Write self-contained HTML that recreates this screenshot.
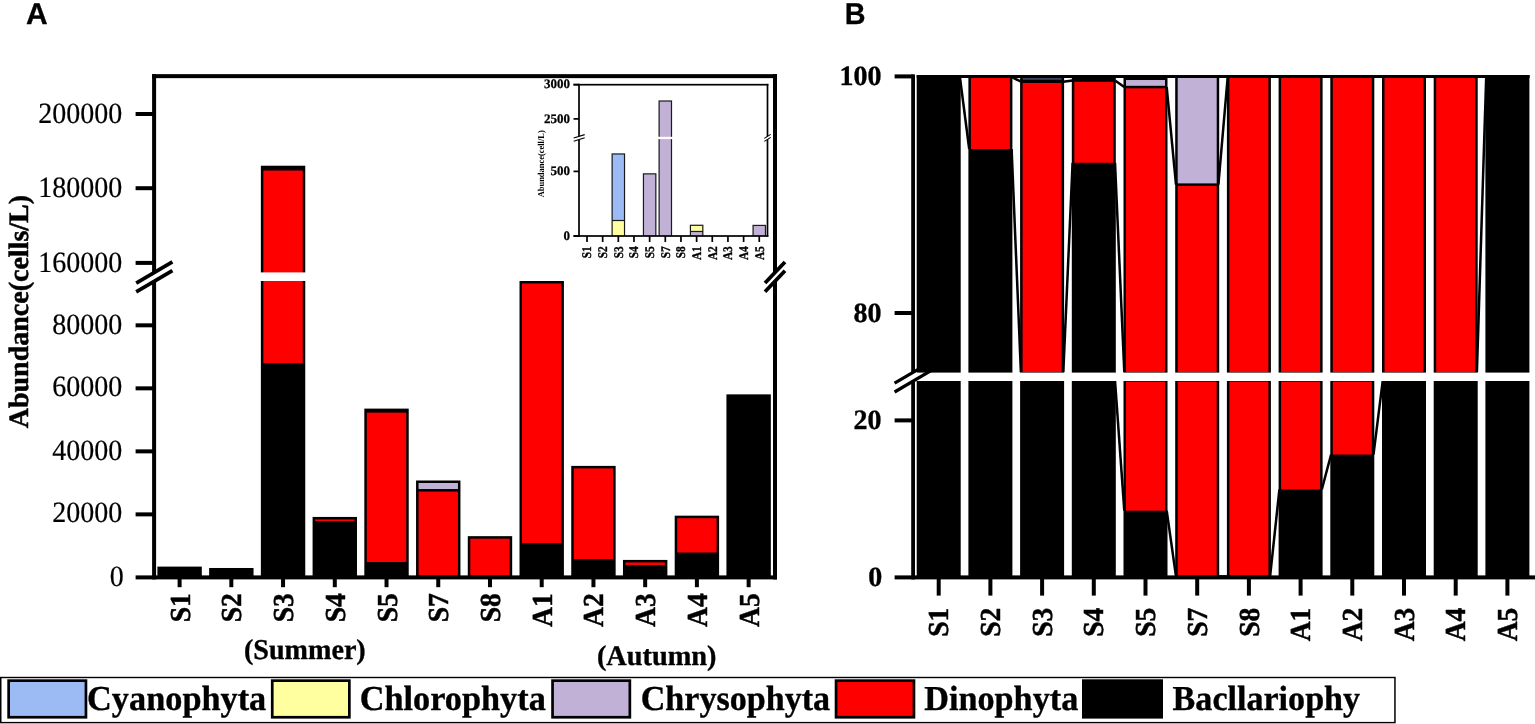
<!DOCTYPE html>
<html lang="en"><head><meta charset="utf-8"><title>Phytoplankton abundance</title>
<style>
html,body{margin:0;padding:0;background:#fff;}
body{width:1535px;height:724px;overflow:hidden;}
svg{display:block;}
text{font-family:"Liberation Serif",serif;fill:#000;text-rendering:geometricPrecision;}
.b{font-weight:bold;}
.sans{font-family:"Liberation Sans",sans-serif;font-weight:bold;}
</style></head><body>
<svg width="1535" height="724" viewBox="0 0 1535 724" role="img" aria-label="Phytoplankton abundance and composition">
<rect x="0" y="0" width="1535" height="724" fill="#fff"/>
<text class="sans" font-size="30" transform="translate(26.1,23.8) scale(1,1.0)" stroke="#000" stroke-width="0.3">A</text>
<text class="sans" font-size="30" transform="translate(844.7,23.8) scale(0.96,1.0)" stroke="#000" stroke-width="0.3">B</text>
<rect x="157.40" y="566.60" width="44.40" height="10.80" fill="#000000" />
<rect x="209.13" y="567.99" width="44.40" height="9.41" fill="#000000" />
<rect x="260.86" y="165.72" width="44.40" height="411.68" fill="#000000" />
<rect x="263.36" y="170.53" width="39.40" height="192.61" fill="#fe0000" />
<rect x="312.59" y="516.94" width="44.40" height="60.46" fill="#000000" />
<rect x="315.09" y="519.44" width="39.40" height="1.56" fill="#fe0000" />
<rect x="364.32" y="408.61" width="44.40" height="168.79" fill="#000000" />
<rect x="366.82" y="412.62" width="39.40" height="149.40" fill="#fe0000" />
<rect x="416.05" y="480.50" width="44.40" height="96.90" fill="#000000" />
<rect x="418.55" y="491.56" width="39.40" height="83.84" fill="#fe0000" />
<rect x="418.55" y="483.00" width="39.40" height="6.05" fill="#c2b1d6" />
<rect x="467.78" y="536.16" width="44.40" height="41.24" fill="#000000" />
<rect x="470.28" y="538.66" width="39.40" height="36.74" fill="#fe0000" />
<rect x="519.51" y="280.99" width="44.40" height="296.41" fill="#000000" />
<rect x="522.01" y="283.49" width="39.40" height="259.56" fill="#fe0000" />
<rect x="571.24" y="465.90" width="44.40" height="111.50" fill="#000000" />
<rect x="573.74" y="468.40" width="39.40" height="90.63" fill="#fe0000" />
<rect x="622.97" y="559.92" width="44.40" height="17.48" fill="#000000" />
<rect x="625.47" y="562.42" width="39.40" height="2.60" fill="#fe0000" />
<rect x="674.70" y="515.68" width="44.40" height="61.72" fill="#000000" />
<rect x="677.20" y="518.18" width="39.40" height="34.33" fill="#fe0000" />
<rect x="726.43" y="394.37" width="44.40" height="183.03" fill="#000000" />
<rect x="156.10" y="272.40" width="616.90" height="8.60" fill="#fff" />
<rect x="152.10" y="74.15" width="4.00" height="199.25" fill="#000000" />
<rect x="152.10" y="280.00" width="4.00" height="299.40" fill="#000000" />
<rect x="773.00" y="74.15" width="4.00" height="199.25" fill="#000000" />
<rect x="773.00" y="280.00" width="4.00" height="299.40" fill="#000000" />
<rect x="152.10" y="74.15" width="624.90" height="4.00" fill="#000000" />
<rect x="135.60" y="575.40" width="641.40" height="4.00" fill="#000000" />
<polygon points="136.20,283.10 172.40,261.90 172.40,270.70 136.20,291.90" fill="#fff"/>
<line x1="136.20" y1="283.10" x2="172.40" y2="261.90" stroke="#000" stroke-width="3.7" />
<line x1="136.20" y1="291.90" x2="172.40" y2="270.70" stroke="#000" stroke-width="3.7" />
<polygon points="765.00,283.00 785.00,262.00 785.00,270.80 765.00,291.80" fill="#fff"/>
<line x1="765.00" y1="283.00" x2="785.00" y2="262.00" stroke="#000" stroke-width="3.8" />
<line x1="765.00" y1="291.80" x2="785.00" y2="270.80" stroke="#000" stroke-width="3.8" />
<rect x="135.60" y="112.00" width="18.50" height="4.00" fill="#000000" />
<text font-size="28" text-anchor="end" transform="translate(122.20,122.55) scale(1.0,1.05)" stroke="#000" stroke-width="0.2" stroke-linejoin="round">200000</text>
<rect x="135.60" y="186.20" width="18.50" height="4.00" fill="#000000" />
<text font-size="28" text-anchor="end" transform="translate(122.20,196.60) scale(1.0,1.05)" stroke="#000" stroke-width="0.2" stroke-linejoin="round">180000</text>
<rect x="135.60" y="260.90" width="18.50" height="4.00" fill="#000000" />
<text font-size="28" text-anchor="end" transform="translate(122.20,272.10) scale(1.0,1.05)" stroke="#000" stroke-width="0.2" stroke-linejoin="round">160000</text>
<rect x="135.60" y="323.32" width="18.50" height="4.00" fill="#000000" />
<text font-size="28" text-anchor="end" transform="translate(122.20,333.62) scale(1.0,1.05)" stroke="#000" stroke-width="0.2" stroke-linejoin="round">80000</text>
<rect x="135.60" y="386.34" width="18.50" height="4.00" fill="#000000" />
<text font-size="28" text-anchor="end" transform="translate(122.20,396.24) scale(1.0,1.05)" stroke="#000" stroke-width="0.2" stroke-linejoin="round">60000</text>
<rect x="135.60" y="449.36" width="18.50" height="4.00" fill="#000000" />
<text font-size="28" text-anchor="end" transform="translate(122.20,459.86) scale(1.0,1.05)" stroke="#000" stroke-width="0.2" stroke-linejoin="round">40000</text>
<rect x="135.60" y="512.38" width="18.50" height="4.00" fill="#000000" />
<text font-size="28" text-anchor="end" transform="translate(122.20,522.48) scale(1.0,1.05)" stroke="#000" stroke-width="0.2" stroke-linejoin="round">20000</text>
<text font-size="28" text-anchor="end" transform="translate(123.70,585.80) scale(1.0,1.05)" stroke="#000" stroke-width="0.2" stroke-linejoin="round">0</text>
<rect x="177.60" y="577.40" width="4.00" height="9.80" fill="#000000" />
<text class="b" font-size="27.6" text-anchor="end" transform="translate(189.60,593.20) rotate(-90) scale(1.0,1.05)" stroke="#000" stroke-width="0.45" stroke-linejoin="round">S1</text>
<rect x="229.33" y="577.40" width="4.00" height="9.80" fill="#000000" />
<text class="b" font-size="27.6" text-anchor="end" transform="translate(241.33,593.20) rotate(-90) scale(1.0,1.05)" stroke="#000" stroke-width="0.45" stroke-linejoin="round">S2</text>
<rect x="281.06" y="577.40" width="4.00" height="9.80" fill="#000000" />
<text class="b" font-size="27.6" text-anchor="end" transform="translate(293.06,593.20) rotate(-90) scale(1.0,1.05)" stroke="#000" stroke-width="0.45" stroke-linejoin="round">S3</text>
<rect x="332.79" y="577.40" width="4.00" height="9.80" fill="#000000" />
<text class="b" font-size="27.6" text-anchor="end" transform="translate(344.79,593.20) rotate(-90) scale(1.0,1.05)" stroke="#000" stroke-width="0.45" stroke-linejoin="round">S4</text>
<rect x="384.52" y="577.40" width="4.00" height="9.80" fill="#000000" />
<text class="b" font-size="27.6" text-anchor="end" transform="translate(396.52,593.20) rotate(-90) scale(1.0,1.05)" stroke="#000" stroke-width="0.45" stroke-linejoin="round">S5</text>
<rect x="436.25" y="577.40" width="4.00" height="9.80" fill="#000000" />
<text class="b" font-size="27.6" text-anchor="end" transform="translate(448.25,593.20) rotate(-90) scale(1.0,1.05)" stroke="#000" stroke-width="0.45" stroke-linejoin="round">S7</text>
<rect x="487.98" y="577.40" width="4.00" height="9.80" fill="#000000" />
<text class="b" font-size="27.6" text-anchor="end" transform="translate(499.98,593.20) rotate(-90) scale(1.0,1.05)" stroke="#000" stroke-width="0.45" stroke-linejoin="round">S8</text>
<rect x="539.71" y="577.40" width="4.00" height="9.80" fill="#000000" />
<text class="b" font-size="27.6" text-anchor="end" transform="translate(551.71,593.20) rotate(-90) scale(1.0,1.05)" stroke="#000" stroke-width="0.45" stroke-linejoin="round">A1</text>
<rect x="591.44" y="577.40" width="4.00" height="9.80" fill="#000000" />
<text class="b" font-size="27.6" text-anchor="end" transform="translate(603.44,593.20) rotate(-90) scale(1.0,1.05)" stroke="#000" stroke-width="0.45" stroke-linejoin="round">A2</text>
<rect x="643.17" y="577.40" width="4.00" height="9.80" fill="#000000" />
<text class="b" font-size="27.6" text-anchor="end" transform="translate(655.17,593.20) rotate(-90) scale(1.0,1.05)" stroke="#000" stroke-width="0.45" stroke-linejoin="round">A3</text>
<rect x="694.90" y="577.40" width="4.00" height="9.80" fill="#000000" />
<text class="b" font-size="27.6" text-anchor="end" transform="translate(706.90,593.20) rotate(-90) scale(1.0,1.05)" stroke="#000" stroke-width="0.45" stroke-linejoin="round">A4</text>
<rect x="746.63" y="577.40" width="4.00" height="9.80" fill="#000000" />
<text class="b" font-size="27.6" text-anchor="end" transform="translate(758.63,593.20) rotate(-90) scale(1.0,1.05)" stroke="#000" stroke-width="0.45" stroke-linejoin="round">A5</text>
<text class="b" font-size="28" text-anchor="middle" transform="translate(28.40,311.60) rotate(-90) scale(1.0,1.0)" stroke="#000" stroke-width="0.5" stroke-linejoin="round">Abundance(cells/L)</text>
<text class="b" font-size="28.1" text-anchor="start" transform="translate(244.00,658.50) scale(1.0,1.02)" stroke="#000" stroke-width="0.35" stroke-linejoin="round">(Summer)</text>
<text class="b" font-size="28.3" text-anchor="start" transform="translate(596.90,665.40) scale(1.0,1.0)" stroke="#000" stroke-width="0.35" stroke-linejoin="round">(Autumn)</text>
<rect x="611.52" y="153.36" width="13.60" height="82.64" fill="#1a1a1a" />
<rect x="612.72" y="221.10" width="11.20" height="14.90" fill="#ffffa0" />
<rect x="612.72" y="154.56" width="11.20" height="65.34" fill="#9cbbf4" />
<rect x="642.84" y="173.25" width="13.60" height="62.75" fill="#1a1a1a" />
<rect x="644.04" y="174.45" width="11.20" height="61.55" fill="#c2b1d6" />
<rect x="658.50" y="100.40" width="13.60" height="135.60" fill="#1a1a1a" />
<rect x="659.70" y="101.60" width="11.20" height="134.40" fill="#c2b1d6" />
<rect x="689.82" y="224.68" width="13.60" height="11.32" fill="#1a1a1a" />
<rect x="691.02" y="232.08" width="11.20" height="3.92" fill="#c2b1d6" />
<rect x="691.02" y="225.88" width="11.20" height="5.00" fill="#ffffa0" />
<rect x="752.46" y="224.81" width="13.60" height="11.19" fill="#1a1a1a" />
<rect x="753.66" y="226.01" width="11.20" height="9.99" fill="#c2b1d6" />
<rect x="580.00" y="136.80" width="186.50" height="2.30" fill="#fff" />
<rect x="578.15" y="83.85" width="1.70" height="153.00" fill="#000000" />
<rect x="766.65" y="83.85" width="1.70" height="153.00" fill="#000000" />
<rect x="573.50" y="83.85" width="194.85" height="1.70" fill="#000000" />
<rect x="573.50" y="235.15" width="194.85" height="1.70" fill="#000000" />
<polygon points="573.70,138.00 584.70,134.60 584.70,137.80 573.70,141.20" fill="#fff"/>
<line x1="573.70" y1="138.00" x2="584.70" y2="134.60" stroke="#000" stroke-width="1.2" />
<line x1="573.70" y1="141.20" x2="584.70" y2="137.80" stroke="#000" stroke-width="1.2" />
<polygon points="764.30,138.40 770.70,134.40 770.70,137.40 764.30,141.40" fill="#fff"/>
<line x1="764.30" y1="138.40" x2="770.70" y2="134.40" stroke="#000" stroke-width="1.1" />
<line x1="764.30" y1="141.40" x2="770.70" y2="137.40" stroke="#000" stroke-width="1.1" />
<rect x="573.50" y="83.75" width="5.50" height="1.70" fill="#000000" />
<text class="b" font-size="13.0" text-anchor="end" transform="translate(570.00,88.20) scale(1.0,1.0)" stroke="#000" stroke-width="0.25" stroke-linejoin="round">3000</text>
<rect x="573.50" y="118.05" width="5.50" height="1.70" fill="#000000" />
<text class="b" font-size="13.0" text-anchor="end" transform="translate(570.00,122.90) scale(1.0,1.0)" stroke="#000" stroke-width="0.25" stroke-linejoin="round">2500</text>
<rect x="573.50" y="170.55" width="5.50" height="1.70" fill="#000000" />
<text class="b" font-size="13.0" text-anchor="end" transform="translate(570.00,175.40) scale(1.0,1.0)" stroke="#000" stroke-width="0.25" stroke-linejoin="round">500</text>
<rect x="573.50" y="235.15" width="5.50" height="1.70" fill="#000000" />
<text class="b" font-size="13.0" text-anchor="end" transform="translate(570.00,239.80) scale(1.0,1.0)" stroke="#000" stroke-width="0.25" stroke-linejoin="round">0</text>
<rect x="586.15" y="236.00" width="1.70" height="6.00" fill="#000000" />
<text class="b" font-size="11.4" text-anchor="end" transform="translate(591.30,246.20) rotate(-90) scale(1.0,1.16)" stroke="#000" stroke-width="0.3" stroke-linejoin="round">S1</text>
<rect x="601.81" y="236.00" width="1.70" height="6.00" fill="#000000" />
<text class="b" font-size="11.4" text-anchor="end" transform="translate(606.96,246.20) rotate(-90) scale(1.0,1.16)" stroke="#000" stroke-width="0.3" stroke-linejoin="round">S2</text>
<rect x="617.47" y="236.00" width="1.70" height="6.00" fill="#000000" />
<text class="b" font-size="11.4" text-anchor="end" transform="translate(622.62,246.20) rotate(-90) scale(1.0,1.16)" stroke="#000" stroke-width="0.3" stroke-linejoin="round">S3</text>
<rect x="633.13" y="236.00" width="1.70" height="6.00" fill="#000000" />
<text class="b" font-size="11.4" text-anchor="end" transform="translate(638.28,246.20) rotate(-90) scale(1.0,1.16)" stroke="#000" stroke-width="0.3" stroke-linejoin="round">S4</text>
<rect x="648.79" y="236.00" width="1.70" height="6.00" fill="#000000" />
<text class="b" font-size="11.4" text-anchor="end" transform="translate(653.94,246.20) rotate(-90) scale(1.0,1.16)" stroke="#000" stroke-width="0.3" stroke-linejoin="round">S5</text>
<rect x="664.45" y="236.00" width="1.70" height="6.00" fill="#000000" />
<text class="b" font-size="11.4" text-anchor="end" transform="translate(669.60,246.20) rotate(-90) scale(1.0,1.16)" stroke="#000" stroke-width="0.3" stroke-linejoin="round">S7</text>
<rect x="680.11" y="236.00" width="1.70" height="6.00" fill="#000000" />
<text class="b" font-size="11.4" text-anchor="end" transform="translate(685.26,246.20) rotate(-90) scale(1.0,1.16)" stroke="#000" stroke-width="0.3" stroke-linejoin="round">S8</text>
<rect x="695.77" y="236.00" width="1.70" height="6.00" fill="#000000" />
<text class="b" font-size="11.4" text-anchor="end" transform="translate(700.92,246.20) rotate(-90) scale(1.0,1.16)" stroke="#000" stroke-width="0.3" stroke-linejoin="round">A1</text>
<rect x="711.43" y="236.00" width="1.70" height="6.00" fill="#000000" />
<text class="b" font-size="11.4" text-anchor="end" transform="translate(716.58,246.20) rotate(-90) scale(1.0,1.16)" stroke="#000" stroke-width="0.3" stroke-linejoin="round">A2</text>
<rect x="727.09" y="236.00" width="1.70" height="6.00" fill="#000000" />
<text class="b" font-size="11.4" text-anchor="end" transform="translate(732.24,246.20) rotate(-90) scale(1.0,1.16)" stroke="#000" stroke-width="0.3" stroke-linejoin="round">A3</text>
<rect x="742.75" y="236.00" width="1.70" height="6.00" fill="#000000" />
<text class="b" font-size="11.4" text-anchor="end" transform="translate(747.90,246.20) rotate(-90) scale(1.0,1.16)" stroke="#000" stroke-width="0.3" stroke-linejoin="round">A4</text>
<rect x="758.41" y="236.00" width="1.70" height="6.00" fill="#000000" />
<text class="b" font-size="11.4" text-anchor="end" transform="translate(763.56,246.20) rotate(-90) scale(1.0,1.16)" stroke="#000" stroke-width="0.3" stroke-linejoin="round">A5</text>
<text class="b" font-size="9" text-anchor="middle" textLength="67" lengthAdjust="spacingAndGlyphs" transform="translate(543.6,163.8) rotate(-90)">Abundance(cell/L)</text>
<rect x="916.70" y="75.00" width="44.00" height="502.40" fill="#000000" />
<rect x="968.40" y="75.00" width="44.00" height="502.40" fill="#000000" />
<rect x="970.90" y="78.00" width="39.00" height="71.04" fill="#fe0000" />
<rect x="1020.10" y="75.00" width="44.00" height="502.40" fill="#000000" />
<rect x="1022.60" y="82.97" width="39.00" height="289.18" fill="#fe0000" />
<rect x="1071.80" y="75.00" width="44.00" height="502.40" fill="#000000" />
<rect x="1074.30" y="81.79" width="39.00" height="80.97" fill="#fe0000" />
<rect x="1123.50" y="75.00" width="44.00" height="502.40" fill="#000000" />
<rect x="1126.00" y="88.30" width="39.00" height="283.85" fill="#fe0000" />
<rect x="1126.00" y="381.62" width="39.00" height="129.06" fill="#fe0000" />
<rect x="1126.00" y="80.02" width="39.00" height="5.78" fill="#c2b1d6" />
<rect x="1175.20" y="75.00" width="44.00" height="502.40" fill="#000000" />
<rect x="1177.70" y="185.89" width="39.00" height="186.26" fill="#fe0000" />
<rect x="1177.70" y="381.62" width="39.00" height="193.78" fill="#fe0000" />
<rect x="1177.70" y="78.00" width="39.00" height="105.39" fill="#c2b1d6" />
<rect x="1226.90" y="75.00" width="44.00" height="502.40" fill="#000000" />
<rect x="1229.40" y="78.00" width="39.00" height="294.15" fill="#fe0000" />
<rect x="1229.40" y="381.62" width="39.00" height="193.78" fill="#fe0000" />
<rect x="1278.60" y="75.00" width="44.00" height="502.40" fill="#000000" />
<rect x="1281.10" y="78.00" width="39.00" height="294.15" fill="#fe0000" />
<rect x="1281.10" y="381.62" width="39.00" height="107.87" fill="#fe0000" />
<rect x="1330.30" y="75.00" width="44.00" height="502.40" fill="#000000" />
<rect x="1332.80" y="78.00" width="39.00" height="294.15" fill="#fe0000" />
<rect x="1332.80" y="381.62" width="39.00" height="72.93" fill="#fe0000" />
<rect x="1382.00" y="75.00" width="44.00" height="502.40" fill="#000000" />
<rect x="1384.50" y="78.00" width="39.00" height="294.15" fill="#fe0000" />
<rect x="1433.70" y="75.00" width="44.00" height="502.40" fill="#000000" />
<rect x="1436.20" y="78.00" width="39.00" height="294.15" fill="#fe0000" />
<rect x="1485.40" y="75.00" width="44.00" height="502.40" fill="#000000" />
<rect x="1022.60" y="78.00" width="39.00" height="1.80" fill="#39435c" />
<g stroke="#000" stroke-width="2.5" fill="none" stroke-linecap="butt">
<path d="M959.9 77.0L969.2 149.0"/>
<path d="M1011.6 149.0L1020.9 372.1"/>
<path d="M1011.6 77.0L1020.9 81.7"/>
<path d="M1063.3 372.1L1072.6 162.8"/>
<path d="M1063.3 81.7L1072.6 80.5"/>
<path d="M1115.0 380.4L1124.3 510.7"/>
<path d="M1115.0 162.8L1124.3 372.1"/>
<path d="M1115.0 80.5L1124.3 87.0"/>
<path d="M1166.7 510.7L1176.0 576.4"/>
<path d="M1166.7 87.0L1176.0 184.6"/>
<path d="M1218.4 576.4L1227.7 576.4"/>
<path d="M1218.4 184.6L1227.7 77.0"/>
<path d="M1270.1 576.4L1279.4 489.5"/>
<path d="M1321.8 489.5L1331.1 454.5"/>
<path d="M1373.5 454.5L1382.8 380.4"/>
<path d="M1476.9 372.1L1486.2 77.0"/>
</g>
<rect x="916.70" y="75.00" width="612.90" height="3.00" fill="#000000" />
<rect x="915.10" y="372.60" width="619.90" height="8.40" fill="#fff" />
<rect x="911.20" y="74.40" width="3.80" height="299.20" fill="#000000" />
<rect x="911.20" y="380.00" width="3.80" height="199.40" fill="#000000" />
<rect x="894.60" y="575.40" width="640.40" height="4.00" fill="#000000" />
<polygon points="894.6,383.2 916.5,370.4 916.5,379.2 894.6,392.0" fill="#fff"/>
<line x1="894.60" y1="383.20" x2="931.00" y2="361.90" stroke="#000" stroke-width="3.2" />
<line x1="894.60" y1="392.00" x2="931.00" y2="370.70" stroke="#000" stroke-width="3.2" />
<rect x="894.60" y="74.40" width="18.50" height="4.00" fill="#000000" />
<text class="b" font-size="28" text-anchor="end" transform="translate(881.60,84.70) scale(1.0,1.0)" stroke="#000" stroke-width="0.35" stroke-linejoin="round">100</text>
<rect x="894.60" y="311.00" width="18.50" height="4.00" fill="#000000" />
<text class="b" font-size="28" text-anchor="end" transform="translate(881.60,321.80) scale(1.0,1.0)" stroke="#000" stroke-width="0.35" stroke-linejoin="round">80</text>
<rect x="894.60" y="418.40" width="18.50" height="4.00" fill="#000000" />
<text class="b" font-size="28" text-anchor="end" transform="translate(881.60,429.20) scale(1.0,1.0)" stroke="#000" stroke-width="0.35" stroke-linejoin="round">20</text>
<text class="b" font-size="28" text-anchor="end" transform="translate(882.30,586.20) scale(1.0,1.0)" stroke="#000" stroke-width="0.35" stroke-linejoin="round">0</text>
<rect x="936.70" y="577.40" width="4.00" height="18.20" fill="#000000" />
<text class="b" font-size="27.6" text-anchor="end" transform="translate(948.30,607.60) rotate(-90) scale(1.0,1.05)" stroke="#000" stroke-width="0.45" stroke-linejoin="round">S1</text>
<rect x="988.40" y="577.40" width="4.00" height="18.20" fill="#000000" />
<text class="b" font-size="27.6" text-anchor="end" transform="translate(1000.00,607.60) rotate(-90) scale(1.0,1.05)" stroke="#000" stroke-width="0.45" stroke-linejoin="round">S2</text>
<rect x="1040.10" y="577.40" width="4.00" height="18.20" fill="#000000" />
<text class="b" font-size="27.6" text-anchor="end" transform="translate(1051.70,607.60) rotate(-90) scale(1.0,1.05)" stroke="#000" stroke-width="0.45" stroke-linejoin="round">S3</text>
<rect x="1091.80" y="577.40" width="4.00" height="18.20" fill="#000000" />
<text class="b" font-size="27.6" text-anchor="end" transform="translate(1103.40,607.60) rotate(-90) scale(1.0,1.05)" stroke="#000" stroke-width="0.45" stroke-linejoin="round">S4</text>
<rect x="1143.50" y="577.40" width="4.00" height="18.20" fill="#000000" />
<text class="b" font-size="27.6" text-anchor="end" transform="translate(1155.10,607.60) rotate(-90) scale(1.0,1.05)" stroke="#000" stroke-width="0.45" stroke-linejoin="round">S5</text>
<rect x="1195.20" y="577.40" width="4.00" height="18.20" fill="#000000" />
<text class="b" font-size="27.6" text-anchor="end" transform="translate(1206.80,607.60) rotate(-90) scale(1.0,1.05)" stroke="#000" stroke-width="0.45" stroke-linejoin="round">S7</text>
<rect x="1246.90" y="577.40" width="4.00" height="18.20" fill="#000000" />
<text class="b" font-size="27.6" text-anchor="end" transform="translate(1258.50,607.60) rotate(-90) scale(1.0,1.05)" stroke="#000" stroke-width="0.45" stroke-linejoin="round">S8</text>
<rect x="1298.60" y="577.40" width="4.00" height="18.20" fill="#000000" />
<text class="b" font-size="27.6" text-anchor="end" transform="translate(1310.20,607.60) rotate(-90) scale(1.0,1.05)" stroke="#000" stroke-width="0.45" stroke-linejoin="round">A1</text>
<rect x="1350.30" y="577.40" width="4.00" height="18.20" fill="#000000" />
<text class="b" font-size="27.6" text-anchor="end" transform="translate(1361.90,607.60) rotate(-90) scale(1.0,1.05)" stroke="#000" stroke-width="0.45" stroke-linejoin="round">A2</text>
<rect x="1402.00" y="577.40" width="4.00" height="18.20" fill="#000000" />
<text class="b" font-size="27.6" text-anchor="end" transform="translate(1413.60,607.60) rotate(-90) scale(1.0,1.05)" stroke="#000" stroke-width="0.45" stroke-linejoin="round">A3</text>
<rect x="1453.70" y="577.40" width="4.00" height="18.20" fill="#000000" />
<text class="b" font-size="27.6" text-anchor="end" transform="translate(1465.30,607.60) rotate(-90) scale(1.0,1.05)" stroke="#000" stroke-width="0.45" stroke-linejoin="round">A4</text>
<rect x="1505.40" y="577.40" width="4.00" height="18.20" fill="#000000" />
<text class="b" font-size="27.6" text-anchor="end" transform="translate(1517.00,607.60) rotate(-90) scale(1.0,1.05)" stroke="#000" stroke-width="0.45" stroke-linejoin="round">A5</text>
<rect x="0.00" y="676.80" width="1395.70" height="46.50" fill="#000" />
<rect x="1.50" y="678.20" width="1392.70" height="43.70" fill="#fff" />
<rect x="7.30" y="679.30" width="80.00" height="39.30" fill="#000000" />
<rect x="10.00" y="682.00" width="74.60" height="33.90" fill="#9cbbf4" />
<text class="b" font-size="34.5" text-anchor="start" transform="translate(87.10,710.40) scale(0.994,1.015)" stroke="#000" stroke-width="0.35" stroke-linejoin="round">Cyanophyta</text>
<rect x="270.90" y="679.30" width="79.80" height="39.30" fill="#000000" />
<rect x="273.60" y="682.00" width="74.40" height="33.90" fill="#ffffa0" />
<text class="b" font-size="34.5" text-anchor="start" transform="translate(359.70,710.40) scale(0.994,1.015)" stroke="#000" stroke-width="0.35" stroke-linejoin="round">Chlorophyta</text>
<rect x="551.20" y="679.30" width="80.00" height="39.30" fill="#000000" />
<rect x="553.90" y="682.00" width="74.60" height="33.90" fill="#c2b1d6" />
<text class="b" font-size="34.5" text-anchor="start" transform="translate(640.70,710.40) scale(0.988,1.015)" stroke="#000" stroke-width="0.35" stroke-linejoin="round">Chrysophyta</text>
<rect x="834.70" y="679.30" width="80.60" height="39.30" fill="#000000" />
<rect x="837.40" y="682.00" width="75.20" height="33.90" fill="#fe0000" />
<text class="b" font-size="34.5" text-anchor="start" transform="translate(924.20,710.40) scale(0.992,1.015)" stroke="#000" stroke-width="0.35" stroke-linejoin="round">Dinophyta</text>
<rect x="1082.00" y="679.30" width="81.00" height="39.30" fill="#000000" />
<text class="b" font-size="34.5" text-anchor="start" transform="translate(1172.60,710.40) scale(0.988,1.015)" stroke="#000" stroke-width="0.35" stroke-linejoin="round">Bacllariophy</text>
</svg></body></html>
